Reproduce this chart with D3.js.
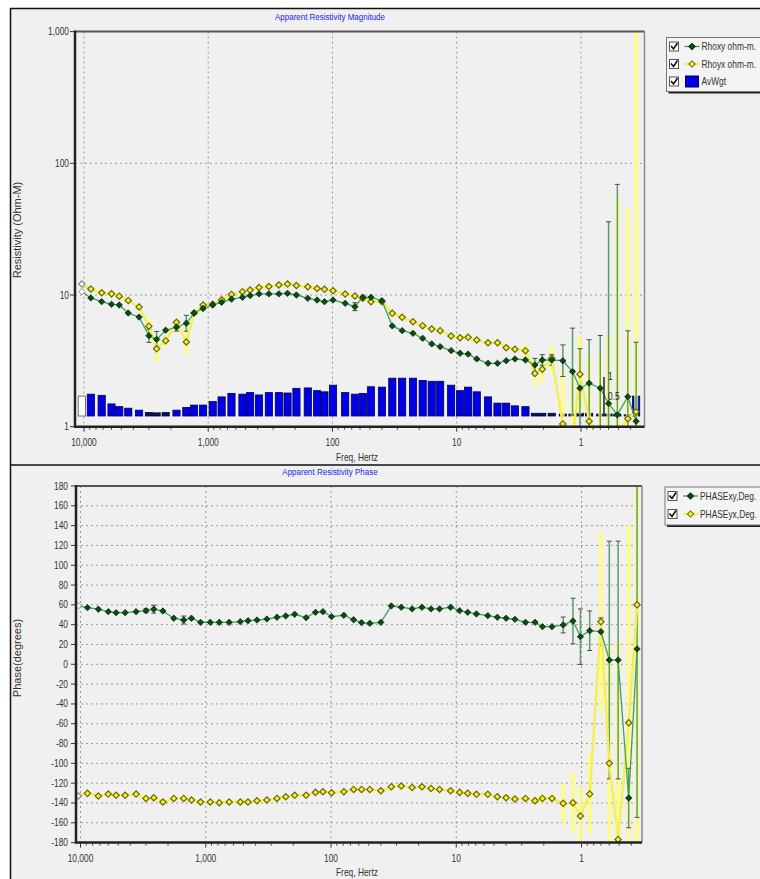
<!DOCTYPE html>
<html><head><meta charset="utf-8">
<script src="https://cdn.jsdelivr.net/npm/d3@7"></script>
<style>
body{margin:0;background:#fff;}
svg text{font-family:"Liberation Sans",Arial,sans-serif;}
</style></head><body>
<svg id="chart" width="760" height="879"></svg>
<script>
// Sounding frequencies (Hz), high to low
const freqs = [10400, 8800, 7200, 6000, 5200, 4400, 3600, 3000, 2600, 2200,
  1800, 1500, 1300, 1100, 920, 780, 650, 530, 460, 390,
  325, 270, 230, 195, 158, 133, 116, 99, 79, 66,
  57, 49, 40, 33, 27.5, 22.5, 18.8, 15.9, 13.6, 11.1,
  9.4, 8.1, 6.9, 5.6, 4.7, 4.0, 3.4, 2.8, 2.35, 2.05,
  1.72, 1.4, 1.17, 1.02, 0.86, 0.70, 0.60, 0.51, 0.42, 0.36];

// Apparent resistivity (ohm-m)
const rhoxy = [10.6, 9.5, 8.9, 8.5, 8.4, 7.3, 6.8, 4.9, 4.6, 5.4,
  5.7, 6.1, 7.3, 7.9, 8.4, 8.8, 9.3, 9.6, 9.9, 10.2,
  10.2, 10.2, 10.3, 10.0, 9.44, 9.16, 8.89, 9.16, 8.65, 8.15,
  9.61, 9.61, 9.05, 5.82, 5.36, 5.12, 4.69, 4.25, 4.05, 3.78,
  3.61, 3.56, 3.27, 3.03, 3.03, 3.17, 3.27, 3.21, 2.94, 3.21,
  3.21, 3.17, 2.62, 1.96, 2.14, 1.96, 1.5, 1.23, 1.69, 1.1];
const rhoyx = [12.1, 11.1, 10.4, 10.2, 9.8, 9.1, 8.1, 5.8, 3.9, 4.5,
  6.2, 4.4, 7.3, 8.4, 8.5, 9.2, 10.1, 10.6, 10.9, 11.4,
  11.6, 11.9, 12.1, 11.8, 11.56, 11.2, 11.04, 10.78, 10.18, 9.83,
  9.44, 8.89, 8.89, 7.26, 6.77, 6.27, 5.85, 5.52, 5.36, 4.88,
  4.74, 4.77, 4.55, 4.34, 4.34, 3.98, 3.87, 3.78, 2.54, 2.73,
  3.31, 1.05, 0.8, 2.5, 1.1, 0.9, 0.8, 0.9, 1.15, 1.3];
// Error half-widths in decades
const rhoxyErr = [0, 0, 0, 0, 0, 0, 0, 0.05, 0.06, 0,
  0.03, 0.06, 0, 0, 0, 0, 0, 0, 0, 0,
  0, 0, 0, 0, 0, 0, 0, 0, 0, 0.03,
  0, 0, 0, 0, 0, 0, 0, 0, 0, 0,
  0, 0, 0, 0, 0, 0, 0, 0, 0.05, 0.04,
  0.04, 0.12, 0.33, 0.3, 0.33, 0.4, 1.38, 1.75, 0.5, 0.6];
const rhoyxErr = [0, 0, 0, 0, 0, 0.02, 0.02, 0.06, 0.1, 0.04,
  0.03, 0.1, 0.02, 0, 0, 0, 0, 0, 0, 0,
  0, 0, 0, 0, 0, 0, 0, 0, 0, 0.02,
  0, 0, 0, 0, 0, 0, 0, 0, 0, 0,
  0, 0, 0, 0, 0, 0, 0.02, 0.05, 0.1, 0.1,
  0.1, 0.4, 0.5, 0.3, 0.5, 0.6, 0.8, 1.8, 1.6, 3.0];
// Averaging weight
const avwgt = [0.51, 0.56, 0.53, 0.31, 0.24, 0.2, 0.15, 0.09, 0.08, 0.09,
  0.15, 0.22, 0.28, 0.28, 0.37, 0.49, 0.58, 0.56, 0.6, 0.54,
  0.6, 0.6, 0.59, 0.71, 0.72, 0.65, 0.62, 0.79, 0.6, 0.56,
  0.58, 0.75, 0.74, 0.97, 0.97, 0.97, 0.91, 0.89, 0.89, 0.79,
  0.65, 0.74, 0.62, 0.49, 0.33, 0.33, 0.26, 0.24, 0.07, 0.07,
  0.07, 0.05, 0.05, 0.07, 0.07, 0.05, 0.05, 0.05, 0.03, 0.51];

// Phase (degrees)
const phasexy = [59, 57.2, 55.6, 53.1, 52.1, 52.1, 53.1, 54.1, 55.6, 53.8,
  46.5, 44.7, 46.5, 42.4, 42.4, 42.4, 42.4, 43, 44, 44.7,
  45.7, 47.5, 48.8, 50.5, 47.1, 52.5, 53.1, 48.1, 49.5, 45,
  42, 41.4, 42.4, 58.9, 57.6, 55.9, 57.6, 55.9, 55.9, 57.6,
  54.1, 52.5, 50.8, 49.1, 47.5, 46.5, 45.4, 42.4, 42.4, 38,
  38, 39.7, 43.7, 27.9, 33.9, 32.9, 4.3, 4.3, -135, 15.5];
const phaseyx = [-133, -130.3, -133, -131, -132.3, -132.3, -131, -135.4, -134.7, -139,
  -135.4, -135.4, -137, -139, -139, -139.8, -139, -139, -139, -137.8,
  -137, -135.4, -133.7, -132.3, -132.3, -129.3, -128.7, -129.7, -128.7, -126.3,
  -126.3, -126.3, -127.7, -123.6, -122.9, -124.3, -123.6, -125.3, -126.3, -127.7,
  -129.3, -130.3, -131.3, -131.3, -133.7, -134.7, -136, -135.4, -137.8, -135.4,
  -135.4, -140.4, -139.8, -153.2, -131, 43, -100, -176.8, -59, 60];
const phasexyErr = [0, 0, 0, 0, 0, 0, 0, 2, 4, 0,
  0, 4, 0, 0, 0, 0, 0, 0, 0, 0,
  0, 0, 0, 0, 0, 0, 0, 0, 0, 0,
  0, 0, 0, 0, 0, 0, 0, 0, 0, 0,
  0, 0, 0, 0, 0, 0, 0, 0, 0, 0,
  0, 8, 23, 28, 20, 14, 120, 120, 30, 170];
const phaseyxErr = [0, 0, 0, 0, 0, 0, 0, 2, 3, 0,
  0, 2, 0, 0, 0, 0, 0, 0, 0, 0,
  0, 0, 0, 0, 0, 0, 0, 0, 0, 0,
  0, 0, 0, 0, 0, 0, 0, 0, 0, 0,
  0, 0, 0, 0, 0, 0, 2, 3, 5, 5,
  5, 20, 30, 30, 40, 90, 120, 200, 200, 400];

// Index of the point left out of the average
const excluded = [0];

const rhoTicks = [1, 10, 100, 1000];
const phaseTicks = d3.range(-180, 181, 20);
const freqTicks = [10000, 1000, 100, 10, 1];
const fmt = d3.format(",");

const svg = d3.select("#chart");
const GREEN_LINE = "#3f9f5a", GREEN_MARK = "#0d4a16", YEL_LINE = "#f3ef5a",
      YEL_FILL = "#f4f03a", YEL_EDGE = "#6c6800";
const NARROW = 0.84;

// condensed label: horizontally squeezed around its anchor point
function label(g, x, y, s, size, anchor, fill) {
  return g.append("text").attr("transform", `translate(${x},${y}) scale(${NARROW},1)`)
    .attr("text-anchor", anchor || "start").attr("font-size", size).attr("fill", fill || "#333").text(s);
}

// panel backgrounds and frame
svg.append("rect").attr("x", 10).attr("y", 8).attr("width", 750).attr("height", 871).attr("fill", "#f0f0f0");
svg.append("line").attr("x1", 10).attr("x2", 760).attr("y1", 8.5).attr("y2", 8.5).attr("stroke", "#111").attr("stroke-width", 1.5);
svg.append("line").attr("x1", 10.5).attr("x2", 10.5).attr("y1", 8).attr("y2", 879).attr("stroke", "#111").attr("stroke-width", 1.5);
svg.append("line").attr("x1", 10).attr("x2", 760).attr("y1", 465).attr("y2", 465).attr("stroke", "#111").attr("stroke-width", 1.5);

function frame(g, x0, x1, y0, y1) {
  g.append("line").attr("x1", x0).attr("x2", x1).attr("y1", y0).attr("y2", y0).attr("stroke", "#555").attr("stroke-width", 2);
  g.append("line").attr("x1", x1).attr("x2", x1).attr("y1", y0).attr("y2", y1).attr("stroke", "#8a8a8a").attr("stroke-width", 1.5);
  g.append("line").attr("x1", x0).attr("x2", x0).attr("y1", y0 - 1).attr("y2", y1 + 1).attr("stroke", "#222").attr("stroke-width", 2.5);
  g.append("line").attr("x1", x0 - 1).attr("x2", x1).attr("y1", y1).attr("y2", y1).attr("stroke", "#222").attr("stroke-width", 2.5);
}

function freqAxis(g, x, y0, y1, labelY) {
  g.selectAll(null).data(freqTicks).join("line")
    .attr("x1", d => x(d)).attr("x2", d => x(d)).attr("y1", y0).attr("y2", y1)
    .attr("stroke", "#9a9a9a").attr("stroke-dasharray", "2,3");
  const minors = [];
  for (let e = -1; e <= 4; e++) for (let m = 2; m <= 9; m++) {
    const v = m * Math.pow(10, e);
    if (v < x.domain()[0] && v > x.domain()[1]) minors.push(v);
  }
  g.selectAll(null).data(minors).join("line")
    .attr("x1", d => x(d)).attr("x2", d => x(d)).attr("y1", y1 + 1).attr("y2", y1 + 3)
    .attr("stroke", "#444");
  g.selectAll(null).data(freqTicks).join("line")
    .attr("x1", d => x(d)).attr("x2", d => x(d)).attr("y1", y1 + 1).attr("y2", y1 + 5)
    .attr("stroke", "#333");
  freqTicks.forEach(d => label(g, x(d), labelY, fmt(d), 10, "middle"));
}

const diamond = d3.symbol(d3.symbolSquare, 20)();
function marker(g, pts, fill, stroke, sw) {
  g.selectAll(null).data(pts).join("path")
    .attr("transform", d => `translate(${d[0]},${d[1]}) rotate(45)`)
    .attr("d", diamond)
    .attr("fill", d => d[2] ? "#fafafa" : fill)
    .attr("stroke", d => d[2] ? "#888" : stroke).attr("stroke-width", sw);
}

function legend(x, y, w, h, step, items) {
  const g = svg.append("g");
  g.append("rect").attr("x", x + 2).attr("y", y + 2).attr("width", w).attr("height", h).attr("fill", "#222");
  g.append("rect").attr("x", x).attr("y", y).attr("width", w).attr("height", h).attr("fill", "#f4f4f4").attr("stroke", "#777");
  items.forEach((it, i) => {
    const cy = y + 9 + i * step;
    g.append("rect").attr("x", x + 3).attr("y", cy - 4.5).attr("width", 9).attr("height", 9)
      .attr("fill", "#fff").attr("stroke", "#555");
    g.append("path").attr("d", `M${x + 4.5},${cy - 0.5} L${x + 7},${cy + 2.5} L${x + 11},${cy - 3.5}`)
      .attr("fill", "none").attr("stroke", "#111").attr("stroke-width", 1.6);
    if (it.kind === "bar") {
      g.append("rect").attr("x", x + 19).attr("y", cy - 5.5).attr("width", 13).attr("height", 11)
        .attr("fill", "#0000e6").attr("stroke", "#000050");
    } else {
      g.append("line").attr("x1", x + 18).attr("x2", x + 33).attr("y1", cy).attr("y2", cy)
        .attr("stroke", it.line).attr("stroke-width", it.lw);
      g.append("path").attr("transform", `translate(${x + 25.5},${cy}) rotate(45)`)
        .attr("d", diamond).attr("fill", it.fill).attr("stroke", it.stroke);
    }
    label(g, x + 35, cy + 3.5, it.label, 10, "start");
  });
}

// ---------------- Resistivity magnitude ----------------
{
  const L = 75, R = 644.5, T = 31.6, B = 426.7;
  const x = d3.scaleLog().domain([Math.pow(10, 4.072), Math.pow(10, -0.511)]).range([L, R]);
  const y = d3.scaleLog().domain([1, 1000]).range([B, T]);
  const yw = d3.scaleLinear().domain([0, 1]).range([416, 377]);
  const g = svg.append("g");
  g.append("defs").append("clipPath").attr("id", "clipTop").append("rect")
    .attr("x", L).attr("y", T).attr("width", R - L).attr("height", B - T);

  label(g, 330, 20, "Apparent Resistivity Magnitude", 9.5, "middle", "#1c1cf0");

  g.selectAll(null).data([10, 100]).join("line")
    .attr("x1", L).attr("x2", R).attr("y1", d => y(d)).attr("y2", d => y(d))
    .attr("stroke", "#9a9a9a").attr("stroke-dasharray", "2,3");
  freqAxis(g, x, T, B, 446);

  const c = g.append("g").attr("clip-path", "url(#clipTop)");
  c.selectAll(null).data(avwgt).join("rect")
    .attr("x", (d, i) => x(freqs[i]) - 3.6).attr("width", 7.2)
    .attr("y", d => yw(d)).attr("height", d => yw(0) - yw(d))
    .attr("fill", (d, i) => excluded.includes(i) ? "#fff" : (d < 0.1 ? "#10104a" : "#0000e6"))
    .attr("stroke", (d, i) => excluded.includes(i) ? "#555" : "#000050").attr("stroke-width", 0.8);

  const errY = (vals, errs) => vals.map((v, i) => ({ i, x: x(freqs[i]),
    lo: y(v / Math.pow(10, errs[i])), hi: y(v * Math.pow(10, errs[i])), e: errs[i] }));
  const ey = errY(rhoyx, rhoyxErr).filter(d => d.e > 0);
  c.selectAll(null).data(ey).join("line")
    .attr("x1", d => d.x).attr("x2", d => d.x).attr("y1", d => d.lo).attr("y2", d => d.hi)
    .attr("stroke", "#ffff70").attr("stroke-width", 4).attr("opacity", 0.75);
  const eg = errY(rhoxy, rhoxyErr).filter(d => d.e > 0);
  c.selectAll(null).data(eg).join("line")
    .attr("x1", d => d.x).attr("x2", d => d.x).attr("y1", d => d.lo).attr("y2", d => d.hi)
    .attr("stroke", "#5c9c6c").attr("stroke-width", 1.5);
  c.selectAll(null).data(eg.flatMap(d => [d.lo, d.hi].map(v => [d.x, v]))).join("line")
    .attr("x1", d => d[0] - 2.5).attr("x2", d => d[0] + 2.5).attr("y1", d => d[1]).attr("y2", d => d[1])
    .attr("stroke", "#4a4a4a").attr("stroke-width", 1);

  const line = d3.line().x((d, i) => x(freqs[i])).y(d => y(d));
  c.append("path").attr("d", line(rhoyx)).attr("fill", "none").attr("stroke", YEL_LINE).attr("stroke-width", 2.5);
  c.append("path").attr("d", line(rhoxy)).attr("fill", "none").attr("stroke", GREEN_LINE).attr("stroke-width", 1.3);
  marker(c, rhoyx.map((v, i) => [x(freqs[i]), y(v), excluded.includes(i)]), YEL_FILL, YEL_EDGE, 1.2);
  marker(c, rhoxy.map((v, i) => [x(freqs[i]), y(v), excluded.includes(i)]), GREEN_MARK, "#06300a", 0.8);

  g.append("line").attr("x1", 604).attr("x2", 604).attr("y1", yw(1)).attr("y2", yw(0)).attr("stroke", "#222").attr("stroke-width", 1.5);
  [1, 0.5].forEach(d => label(g, 608, yw(d) + 3, String(d), 10, "start", "#222"));

  frame(g, L, R, T, B);
  g.selectAll(null).data(rhoTicks).join("line")
    .attr("x1", L - 5).attr("x2", L).attr("y1", d => y(d)).attr("y2", d => y(d)).attr("stroke", "#333");
  rhoTicks.forEach(d => label(g, 69, y(d) + 3.5, fmt(d), 10, "end"));
  g.append("text").attr("transform", "translate(21,230) rotate(-90)").attr("text-anchor", "middle")
    .attr("font-size", 11).attr("fill", "#333").text("Resistivity (Ohm-M)");
  label(g, 336, 461, "Freq, Hertz", 10, "start");
}

// ---------------- Phase ----------------
{
  const L = 76, R = 642, T = 486, B = 842.6;
  const x = d3.scaleLog().domain([Math.pow(10, 4.036), Math.pow(10, -0.483)]).range([L, R]);
  const y = d3.scaleLinear().domain([-180, 180]).range([B, T]);
  const g = svg.append("g");
  g.append("defs").append("clipPath").attr("id", "clipBot").append("rect")
    .attr("x", L).attr("y", T).attr("width", R - L).attr("height", B - T);

  label(g, 330, 475, "Apparent Resistivity Phase", 9.5, "middle", "#1c1cf0");

  g.selectAll(null).data(phaseTicks.filter(d => d > -180 && d < 180)).join("line")
    .attr("x1", L).attr("x2", R).attr("y1", d => y(d)).attr("y2", d => y(d))
    .attr("stroke", "#9a9a9a").attr("stroke-dasharray", "2,3");
  freqAxis(g, x, T, B, 862);

  const c = g.append("g").attr("clip-path", "url(#clipBot)");
  const errs = (vals, e) => vals.map((v, i) => ({ x: x(freqs[i]), lo: y(v - e[i]), hi: y(v + e[i]), e: e[i] }));
  const ey = errs(phaseyx, phaseyxErr).filter(d => d.e > 0);
  c.selectAll(null).data(ey).join("line")
    .attr("x1", d => d.x).attr("x2", d => d.x).attr("y1", d => d.lo).attr("y2", d => d.hi)
    .attr("stroke", "#ffff70").attr("stroke-width", 4).attr("opacity", 0.75);
  const eg = errs(phasexy, phasexyErr).filter(d => d.e > 0);
  c.selectAll(null).data(eg).join("line")
    .attr("x1", d => d.x).attr("x2", d => d.x).attr("y1", d => d.lo).attr("y2", d => d.hi)
    .attr("stroke", "#5c9c6c").attr("stroke-width", 1.5);
  c.selectAll(null).data(eg.flatMap(d => [d.lo, d.hi].map(v => [d.x, v]))).join("line")
    .attr("x1", d => d[0] - 2.5).attr("x2", d => d[0] + 2.5).attr("y1", d => d[1]).attr("y2", d => d[1])
    .attr("stroke", "#4a4a4a").attr("stroke-width", 1);

  const line = d3.line().x((d, i) => x(freqs[i])).y(d => y(d));
  c.append("path").attr("d", line(phaseyx)).attr("fill", "none").attr("stroke", YEL_LINE).attr("stroke-width", 2.5);
  c.append("path").attr("d", line(phasexy)).attr("fill", "none").attr("stroke", GREEN_LINE).attr("stroke-width", 1.3);
  marker(c, phaseyx.map((v, i) => [x(freqs[i]), y(v), excluded.includes(i)]), YEL_FILL, YEL_EDGE, 1.2);
  marker(c, phasexy.map((v, i) => [x(freqs[i]), y(v), excluded.includes(i)]), GREEN_MARK, "#06300a", 0.8);

  frame(g, L, R, T, B);
  g.selectAll(null).data(phaseTicks).join("line")
    .attr("x1", L - 5).attr("x2", L).attr("y1", d => y(d)).attr("y2", d => y(d)).attr("stroke", "#333");
  phaseTicks.forEach(d => label(g, 68, y(d) + 3.5, String(d), 10, "end"));
  g.append("text").attr("transform", "translate(21,658) rotate(-90)").attr("text-anchor", "middle")
    .attr("font-size", 11).attr("fill", "#333").text("Phase(degrees)");
  label(g, 336, 876, "Freq, Hertz", 10, "start");
}

legend(666.5, 37.5, 100, 54, 17.5, [
  { label: "Rhoxy ohm-m.", line: GREEN_LINE, lw: 1.3, fill: GREEN_MARK, stroke: "#06300a" },
  { label: "Rhoyx ohm-m.", line: YEL_LINE, lw: 2.5, fill: YEL_FILL, stroke: YEL_EDGE },
  { kind: "bar", label: "AvWgt" }
]);
legend(665, 487, 100, 38, 18, [
  { label: "PHASExy,Deg.", line: GREEN_LINE, lw: 1.3, fill: GREEN_MARK, stroke: "#06300a" },
  { label: "PHASEyx,Deg.", line: YEL_LINE, lw: 2.5, fill: YEL_FILL, stroke: YEL_EDGE }
]);
</script>
</body></html>
